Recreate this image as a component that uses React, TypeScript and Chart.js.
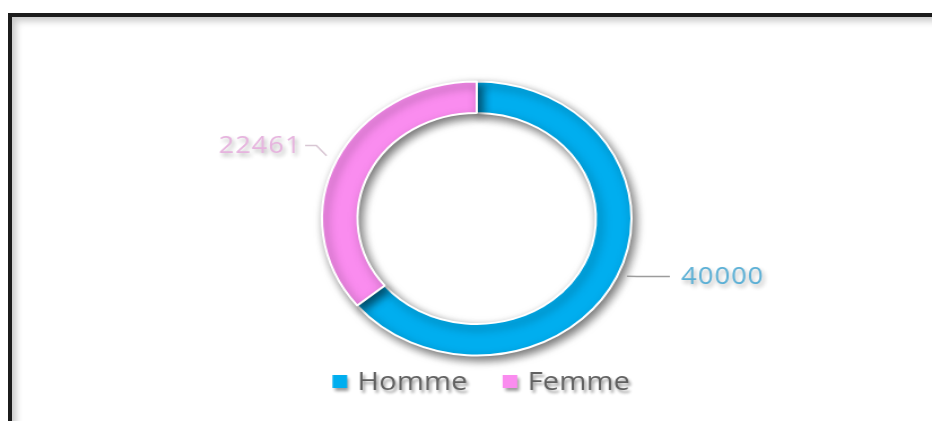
import React, { useEffect, useRef } from "react";
import { Chart, registerables } from "chart.js";

Chart.register(...registerables);

// ---- data ----
const categories: string[] = ["Homme", "Femme"];
const values: number[] = [40000, 22461];

// ---- styles ----
const sliceColors: string[] = ["#00AEEF", "#FA8CEF"];
const labelColors: string[] = ["#5AAFD5", "#E6B3DE"];
const leaderColors: string[] = ["#9C9C9C", "#D8C6D3"];
const leaderLen: number[] = [29, 10];
const leaderGap: number[] = [10, 3];

const VIEW_W = 932;
const VIEW_H = 421;
const STRETCH_X = 1.13;
const CANVAS_W = Math.round(VIEW_W / STRETCH_X);

const ringShadowPlugin = {
  id: "ringShadow",
  beforeDatasetsDraw(chart: any) {
    const ctx = chart.ctx;
    ctx.save();
    ctx.shadowColor = "rgba(0,0,0,0.55)";
    ctx.shadowBlur = 8;
    ctx.shadowOffsetX = 3;
    ctx.shadowOffsetY = 4;
  },
  afterDatasetsDraw(chart: any) {
    chart.ctx.restore();
  },
};

const outLabelsPlugin = {
  id: "outLabels",
  afterDraw(chart: any) {
    const ctx = chart.ctx;
    const meta = chart.getDatasetMeta(0);
    const ds = chart.data.datasets[0];
    meta.data.forEach((arc: any, i: number) => {
      const { x, y, startAngle, endAngle, outerRadius } = arc.getProps(
        ["x", "y", "startAngle", "endAngle", "outerRadius"],
        true
      );
      const mid = (startAngle + endAngle) / 2;
      const cos = Math.cos(mid);
      const sin = Math.sin(mid);
      const right = cos >= 0;
      const ax = x + (outerRadius + 10) * cos;
      const ay = y + (outerRadius + 10) * sin - (right ? 5 : 0);
      const bx = x + (outerRadius + 20) * cos;
      const by = y + (outerRadius + 20) * sin - (right ? 9 : 6);
      const cx = bx + (right ? leaderLen[i] : -leaderLen[i]);
      ctx.save();
      ctx.strokeStyle = leaderColors[i];
      ctx.lineWidth = 1.5;
      ctx.beginPath();
      ctx.moveTo(ax, ay);
      ctx.lineTo(bx, by);
      ctx.lineTo(cx, by);
      ctx.stroke();
      ctx.font = '24px "Open Sans"';
      try {
        (ctx as any).letterSpacing = "1px";
      } catch (e) {}
      ctx.fillStyle = labelColors[i];
      ctx.textAlign = right ? "left" : "right";
      ctx.textBaseline = "middle";
      ctx.shadowColor = "rgba(0,0,0,0.3)";
      ctx.shadowBlur = 4;
      ctx.shadowOffsetX = 2;
      ctx.shadowOffsetY = 3;
      ctx.fillText(
        String(ds.data[i]),
        cx + (right ? leaderGap[i] : -leaderGap[i]),
        by + (right ? 1 : 1)
      );
      ctx.restore();
    });
  },
};

const legendPlugin = {
  id: "customLegend",
  afterDraw(chart: any) {
    const ctx = chart.ctx;
    const ca = chart.chartArea;
    const labels: string[] = chart.data.labels;
    const colors: string[] = chart.data.datasets[0].backgroundColor;
    const box = 13;
    const gap = 9;
    const spacing = 31;
    ctx.save();
    ctx.font = '26px "Open Sans"';
    const widths = labels.map((l) => ctx.measureText(l).width);
    let total = 0;
    widths.forEach((w, i) => {
      total += box + gap + w + (i > 0 ? spacing : 0);
    });
    let x = (ca.left + ca.right) / 2 - total / 2 + 4;
    const yc = ca.bottom + 25;
    labels.forEach((l, i) => {
      ctx.shadowColor = "rgba(0,0,0,0.4)";
      ctx.shadowBlur = 3;
      ctx.shadowOffsetX = 2;
      ctx.shadowOffsetY = 3;
      ctx.fillStyle = colors[i];
      ctx.fillRect(x, yc - box / 2, box, box);
      x += box + gap;
      ctx.fillStyle = "#606060";
      ctx.textAlign = "left";
      ctx.textBaseline = "middle";
      ctx.fillText(l, x, yc + 1);
      x += widths[i] + spacing;
    });
    ctx.restore();
  },
};

function DonutChart() {
  const ref = useRef<HTMLCanvasElement | null>(null);
  useEffect(() => {
    const canvas = ref.current;
    if (!canvas) return;
    const chart = new Chart(canvas, {
      type: "doughnut",
      data: {
        labels: categories,
        datasets: [
          {
            data: values,
            backgroundColor: sliceColors,
            borderColor: "#ffffff",
            borderWidth: 2,
            hoverBorderWidth: 2,
            hoverOffset: 0,
            offset: 0,
          },
        ],
      },
      options: {
        responsive: false,
        maintainAspectRatio: false,
        devicePixelRatio: 1,
        animation: false,
        cutout: "77%",
        rotation: 0,
        events: [],
        layout: {
          padding: { top: 80.5, bottom: 64.5, left: 120, right: 101 },
        },
        plugins: {
          legend: { display: false },
          tooltip: { enabled: false },
          title: { display: false },
        },
      },
      plugins: [ringShadowPlugin, outLabelsPlugin, legendPlugin],
    } as any);
    canvas.style.width = VIEW_W + "px";
    canvas.style.height = VIEW_H + "px";
    return () => chart.destroy();
  }, []);
  return (
    <canvas
      ref={ref}
      width={CANVAS_W}
      height={VIEW_H}
      style={{
        position: "absolute",
        left: 0,
        top: 0,
        width: VIEW_W + "px",
        height: VIEW_H + "px",
      }}
    />
  );
}

export default function App() {
  return (
    <div
      style={{
        position: "fixed",
        left: 0,
        top: 0,
        width: VIEW_W,
        height: VIEW_H,
        overflow: "hidden",
        background: "#ffffff",
      }}
    >
      <div
        style={{
          position: "absolute",
          left: 8,
          top: 13,
          width: 1000,
          height: 520,
          borderLeft: "4px solid #1c1c1c",
          borderTop: "4px solid #1c1c1c",
          boxShadow: "inset 4px 4px 7px rgba(0,0,0,0.22)",
          background: "#ffffff",
        }}
      />
      <DonutChart />
    </div>
  );
}
